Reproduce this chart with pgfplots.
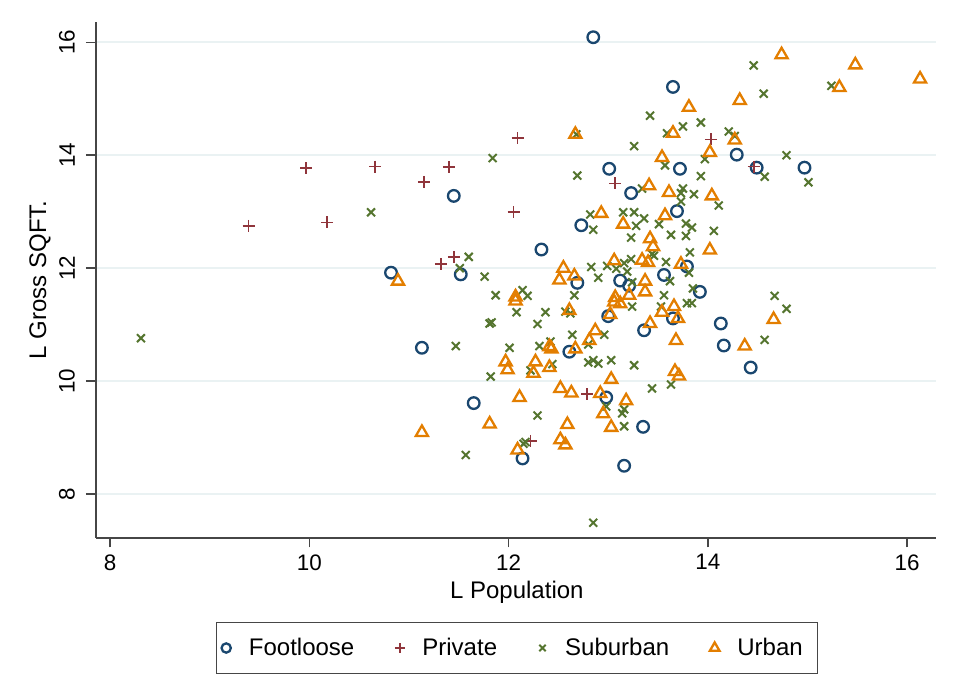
\documentclass[border=0pt]{standalone}
\usepackage{pgfplots}
\pgfplotsset{compat=1.18}
\usepackage{fontspec}
\setmainfont{Liberation Sans}
\definecolor{flc}{RGB}{26,71,111}
\definecolor{prc}{RGB}{144,53,59}
\definecolor{sbc}{RGB}{85,117,47}
\definecolor{urc}{RGB}{227,126,0}
\definecolor{gridc}{RGB}{234,242,243}
\definecolor{axc}{RGB}{70,70,70}
\begin{document}
\begin{tikzpicture}
\begin{axis}[
  scale only axis, width=420.15pt, height=257.85pt,
  xmin=7.856, xmax=16.29, ymin=7.226, ymax=16.36,
  axis lines=left, axis line style={axc, line width=0.85pt, -},
  xtick={8,10,12,14,16}, ytick={8,10,12,14,16},
  tick align=outside, major tick length=4.85pt,
  tick style={axc, line width=0.8pt},
  ymajorgrids, grid style={gridc, line width=1pt},
  /pgf/number format/assume math mode=true,
  ticklabel style={font=\fontsize{11.2}{13}\selectfont},
  yticklabel style={rotate=90, anchor=south, yshift=2pt},
  xlabel={L Population}, ylabel={L Gross SQFT.},
  label style={font=\fontsize{12}{14}\selectfont},
  xlabel style={at={(axis description cs:0.5,0)}, anchor=base, yshift=-30.15pt, xshift=0.5pt},
  ylabel style={at={(axis description cs:0,0.5)}, anchor=center, yshift=27.85pt},
  legend columns=4,
  legend style={at={(0.5014,-0.2139)}, anchor=center, draw=axc, line width=0.7pt,
    inner xsep=0pt, inner ysep=7.7pt,
    nodes={inner xsep=7.5pt, inner ysep=0pt, font=\fontsize{12}{14}\selectfont},
    /tikz/every odd column/.append style={column sep=0pt},
    /tikz/every even column/.append style={column sep=10.25pt}},
  legend image code/.code={\path[draw=none, fill=none] (-4.95pt,-2pt) rectangle (3.85pt,2pt);
    \draw[#1, /tikz/every mark/.append style={scale=0.8}] plot coordinates {(0pt,0pt)};},
]
\coordinate (LL) at (rel axis cs:0,0);
% Footloose
\addplot[only marks, mark=o, mark size=2.9pt, color=flc, mark options={line width=1.15pt}] table {
x y
12.85 16.09
13.65 15.21
11.45 13.28
13.01 13.76
13.72 13.76
14.29 14.01
14.49 13.78
14.97 13.78
13.23 13.33
12.73 12.76
13.69 13.01
12.33 12.33
10.82 11.92
11.52 11.89
12.69 11.74
13.12 11.78
13.21 11.69
13.56 11.88
13.79 12.03
13.92 11.58
13.00 11.15
13.65 11.11
13.36 10.90
12.61 10.52
11.13 10.59
14.13 11.02
14.16 10.63
14.43 10.24
11.65 9.61
12.98 9.71
13.35 9.19
12.14 8.63
13.16 8.50
};
\addlegendentry{Footloose}
% Private
\addplot[only marks, mark=+, mark size=3pt, color=prc, mark options={line width=0.9pt}] table {
x y
9.39 12.75
9.97 13.77
10.18 12.81
10.66 13.80
11.15 13.53
11.40 13.79
11.32 12.07
11.45 12.20
12.09 14.30
14.03 14.28
12.05 12.99
13.07 13.50
14.46 13.80
12.79 9.77
12.22 8.94
};
\addlegendentry{Private}
% Suburban
\addplot[only marks, mark=x, mark size=2.8pt, color=sbc, mark options={line width=1pt}] table {
x y
8.31 10.76
10.62 12.99
11.51 12.00
11.60 12.20
14.46 15.59
15.24 15.23
14.56 15.09
13.42 14.70
13.75 14.51
13.93 14.58
13.59 14.39
14.21 14.42
14.27 14.34
12.68 14.37
11.84 13.95
13.26 14.16
13.97 13.93
14.79 14.00
12.69 13.64
13.57 13.82
13.93 13.63
14.57 13.62
15.01 13.52
13.34 13.41
13.75 13.41
13.73 13.33
13.86 13.31
13.73 13.18
14.11 13.11
12.82 12.95
12.85 12.68
13.15 12.99
13.26 12.99
13.36 12.88
13.28 12.75
13.51 12.78
13.78 12.79
13.84 12.72
13.78 12.57
14.06 12.66
13.23 12.54
13.63 12.59
13.44 12.25
13.46 12.22
13.82 12.28
11.76 11.85
12.83 12.02
12.90 11.83
13.58 12.11
13.62 11.77
13.81 11.92
14.67 11.51
13.85 11.64
13.56 11.52
12.14 11.61
12.19 11.51
11.87 11.52
12.66 11.52
14.79 11.28
14.57 10.73
12.08 11.22
12.37 11.22
11.81 11.02
11.83 11.04
12.29 11.01
12.57 11.23
12.62 11.20
13.24 11.32
13.53 11.32
13.79 11.38
13.84 11.38
12.96 10.82
12.80 10.65
12.64 10.82
12.42 10.70
12.31 10.62
12.01 10.59
12.44 10.30
12.22 10.19
11.82 10.08
12.80 10.33
12.85 10.37
12.90 10.31
13.03 10.37
13.26 10.28
13.44 9.87
13.63 9.94
13.16 9.50
13.14 9.43
12.29 9.39
13.16 9.20
12.15 8.89
12.17 8.92
12.85 7.49
11.47 10.62
11.57 8.69
12.98 9.55
13.23 12.16
12.99 12.04
13.08 11.99
13.16 12.09
13.19 11.94
13.24 11.75
};
\addlegendentry{Suburban}
% Urban
\addplot[only marks, mark=triangle, mark size=3.5pt, color=urc, mark options={line width=1.15pt}] table {
x y
10.89 11.77
14.74 15.78
15.48 15.60
16.13 15.35
15.32 15.20
13.81 14.85
14.32 14.97
13.65 14.39
14.27 14.27
12.67 14.37
13.54 13.96
14.02 14.05
13.41 13.46
13.61 13.34
14.04 13.28
12.93 12.97
13.15 12.78
13.57 12.93
13.42 12.52
13.45 12.38
14.02 12.32
12.55 12.00
12.51 11.79
12.66 11.86
13.06 12.13
13.34 12.14
13.40 12.10
13.37 11.77
13.37 11.58
13.73 12.07
12.07 11.49
13.21 11.52
13.07 11.48
14.66 11.09
14.37 10.62
12.07 11.42
12.61 11.25
13.06 11.40
13.12 11.37
13.54 11.22
13.66 11.32
13.02 11.18
13.70 11.11
13.42 11.02
13.68 10.72
12.87 10.89
12.81 10.72
12.67 10.57
12.41 10.61
12.43 10.57
12.27 10.34
12.25 10.14
11.97 10.34
11.99 10.20
12.41 10.24
13.03 10.03
13.67 10.17
13.71 10.09
12.52 9.87
12.63 9.79
12.92 9.78
12.11 9.71
13.18 9.65
12.95 9.42
11.81 9.24
12.59 9.23
13.03 9.18
12.52 8.96
12.57 8.87
12.09 8.78
11.13 9.09
};
\addlegendentry{Urban}
\end{axis}
\pgfresetboundingbox
\path (LL) ++(-47.85pt,-77.15pt) rectangle ++(479.5pt,346pt);
\end{tikzpicture}
\end{document}
